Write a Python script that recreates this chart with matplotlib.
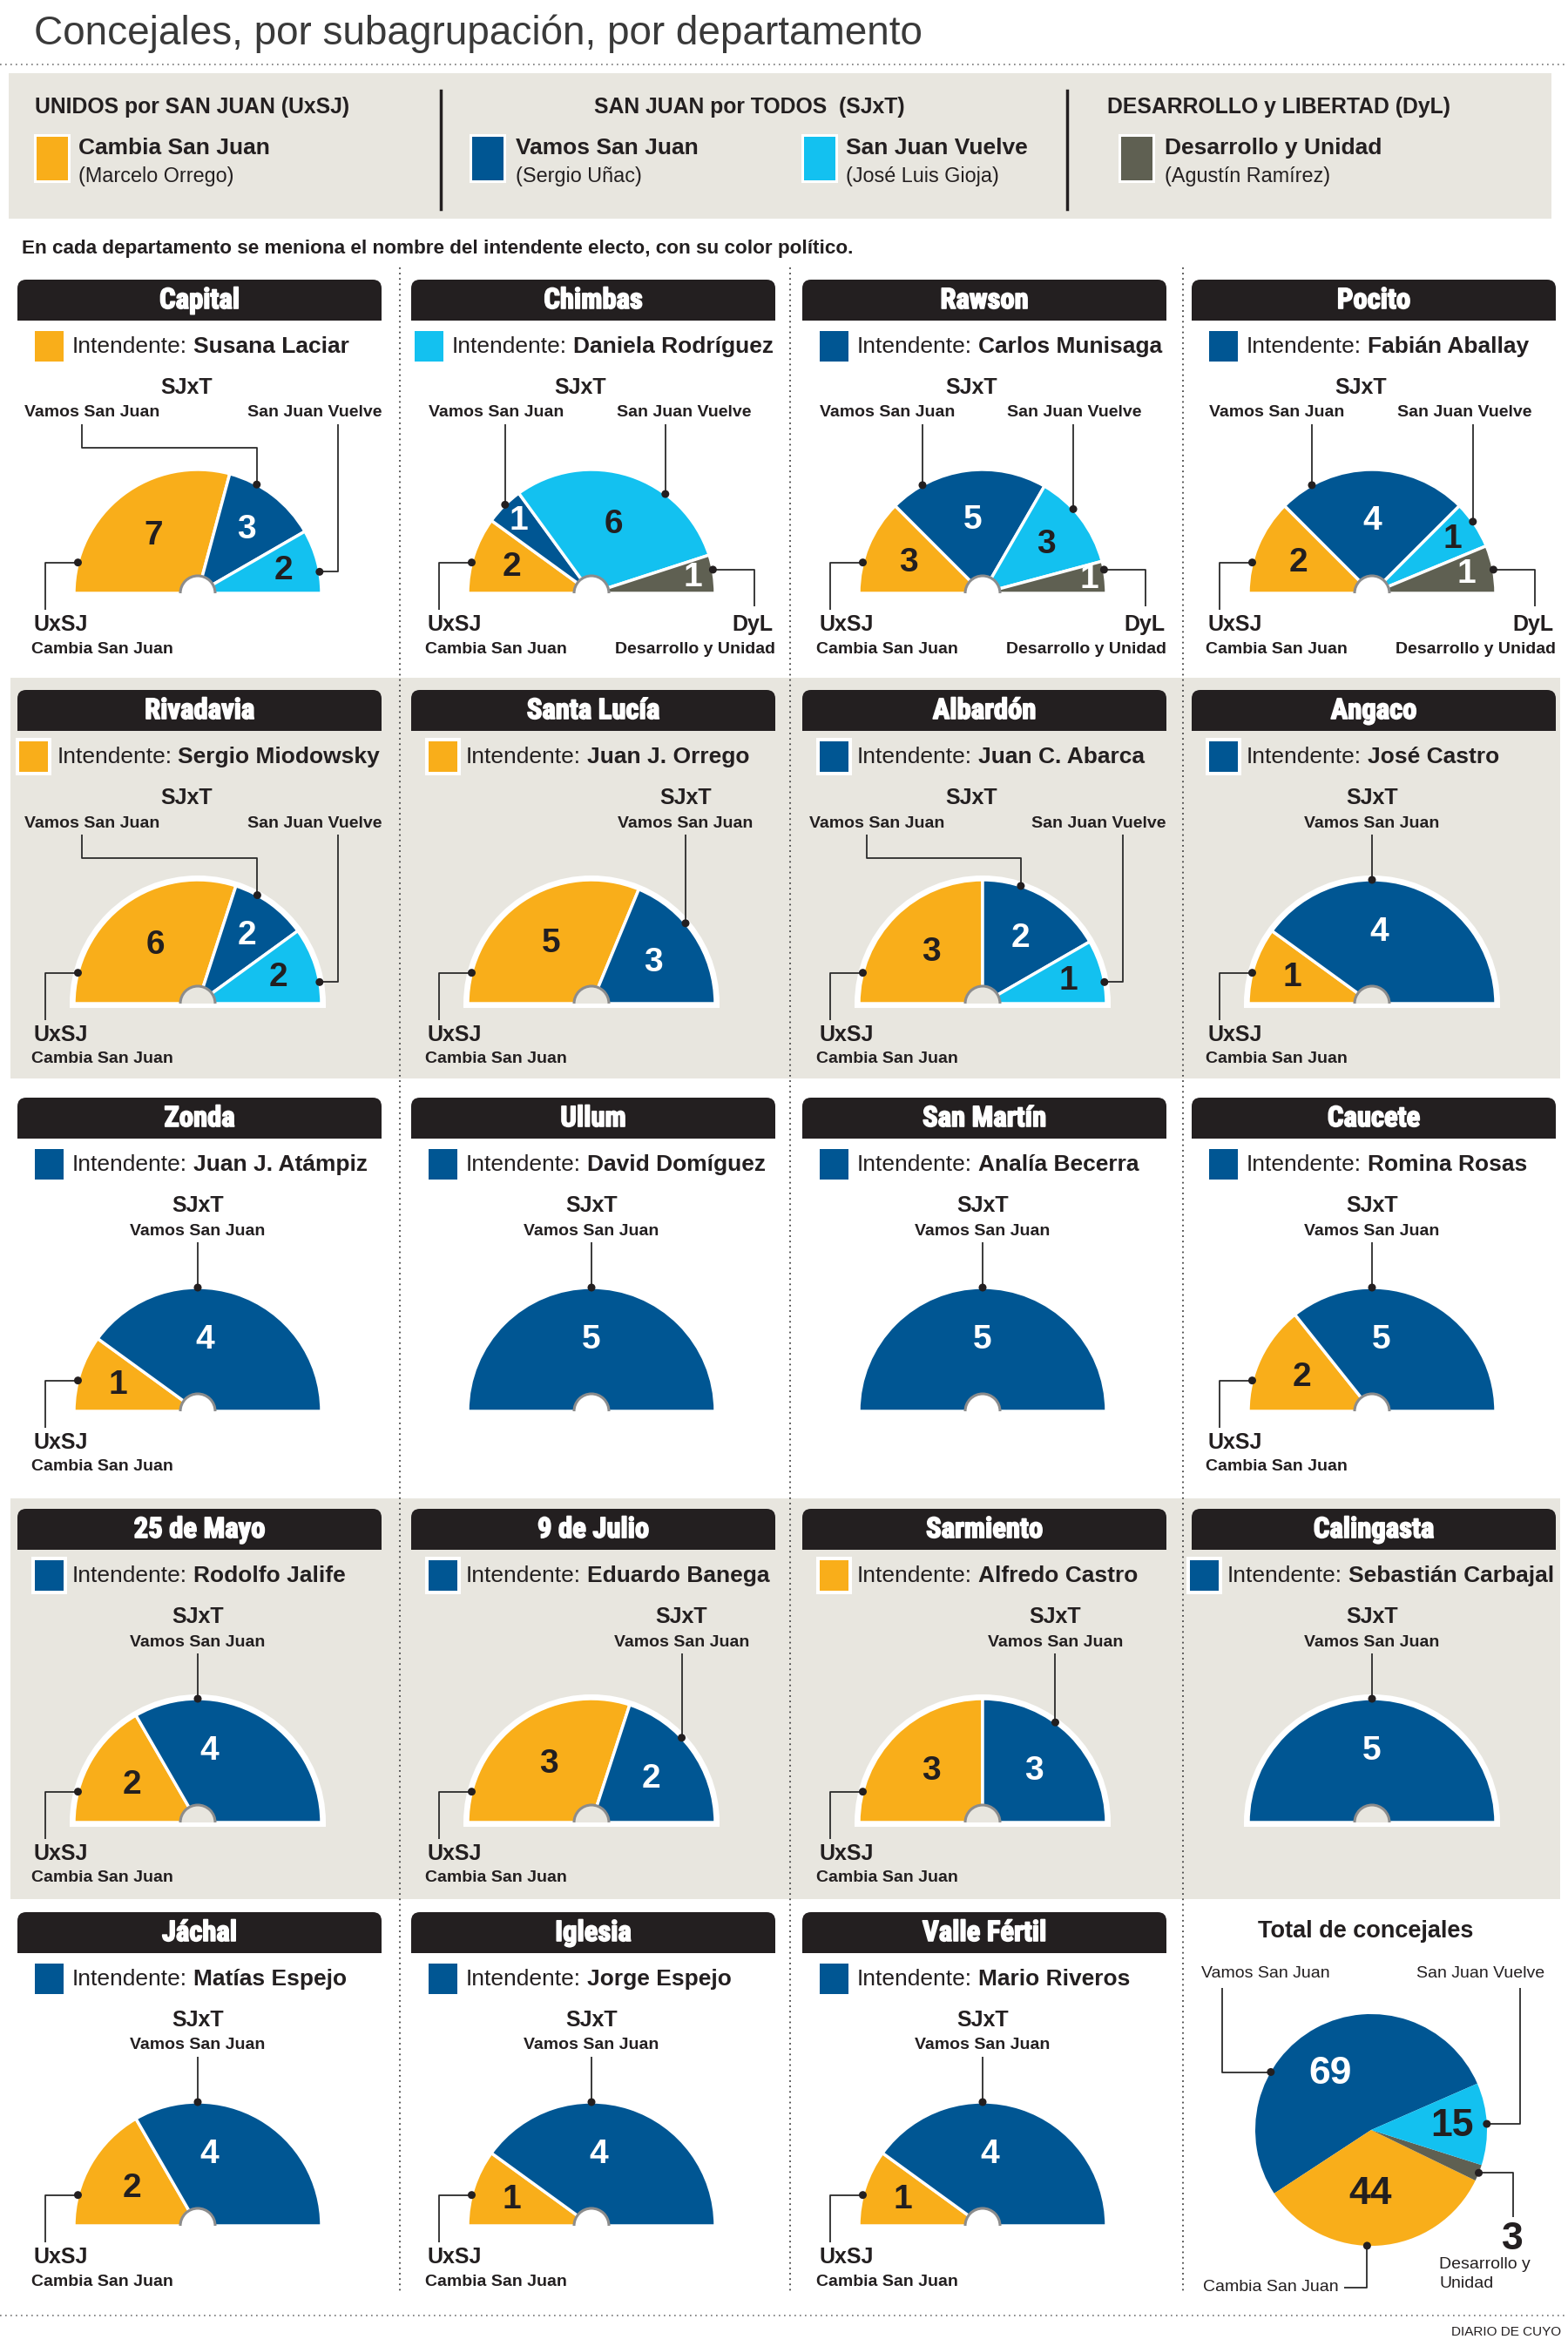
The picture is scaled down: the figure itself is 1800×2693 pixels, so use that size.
import numpy as np
import matplotlib
matplotlib.use('Agg')
import matplotlib.pyplot as plt
import matplotlib.patheffects as pe
from matplotlib.patches import Wedge, Rectangle, FancyBboxPatch, Circle, Arc
from matplotlib import font_manager as fm

# ---------------- data ----------------
departments = ['Capital', 'Chimbas', 'Rawson', 'Pocito',
               'Rivadavia', 'Santa Lucía', 'Albardón', 'Angaco',
               'Zonda', 'Ullum', 'San Martín', 'Caucete',
               '25 de Mayo', '9 de Julio', 'Sarmiento', 'Calingasta',
               'Jáchal', 'Iglesia', 'Valle Fértil']
intendentes = ['Susana Laciar', 'Daniela Rodríguez', 'Carlos Munisaga', 'Fabián Aballay',
               'Sergio Miodowsky', 'Juan J. Orrego', 'Juan C. Abarca', 'José Castro',
               'Juan J. Atámpiz', 'David Domíguez', 'Analía Becerra', 'Romina Rosas',
               'Rodolfo Jalife', 'Eduardo Banega', 'Alfredo Castro', 'Sebastián Carbajal',
               'Matías Espejo', 'Jorge Espejo', 'Mario Riveros']
intendente_group = ['cambia', 'vuelve', 'vamos', 'vamos',
                    'cambia', 'cambia', 'vamos', 'vamos',
                    'vamos', 'vamos', 'vamos', 'vamos',
                    'vamos', 'vamos', 'cambia', 'vamos',
                    'vamos', 'vamos', 'vamos']
cambia_san_juan     = [7, 2, 3, 2, 6, 5, 3, 1, 1, 0, 0, 2, 2, 3, 3, 0, 2, 1, 1]
vamos_san_juan      = [3, 1, 5, 4, 2, 3, 2, 4, 4, 5, 5, 5, 4, 2, 3, 5, 4, 4, 4]
san_juan_vuelve     = [2, 6, 3, 1, 2, 0, 1, 0, 0, 0, 0, 0, 0, 0, 0, 0, 0, 0, 0]
desarrollo_y_unidad = [0, 1, 1, 1, 0, 0, 0, 0, 0, 0, 0, 0, 0, 0, 0, 0, 0, 0, 0]

group_keys = ['cambia', 'vamos', 'vuelve', 'desarrollo']
group_names = ['Cambia San Juan', 'Vamos San Juan', 'San Juan Vuelve', 'Desarrollo y Unidad']
group_leaders = ['(Marcelo Orrego)', '(Sergio Uñac)', '(José Luis Gioja)', '(Agustín Ramírez)']
alliances = ['UNIDOS por SAN JUAN (UxSJ)', 'SAN JUAN por TODOS  (SJxT)', 'DESARROLLO y LIBERTAD (DyL)']

# ---------------- style ----------------
COL = {'cambia': '#f9ae1a', 'vamos': '#005693', 'vuelve': '#13c1f0', 'desarrollo': '#5f6052'}
NUMCOL = {'cambia': '#231f20', 'vamos': 'white', 'vuelve': '#231f20', 'desarrollo': 'white'}
INK = '#231f20'
BAND = '#e8e6df'
HDR = '#231f20'

names = {f.name for f in fm.fontManager.ttflist}
SANS = 'Liberation Sans' if 'Liberation Sans' in names else 'DejaVu Sans'
COND = next((n for n in ['Roboto Condensed', 'Liberation Sans Narrow', 'Open Sans Condensed']
             if n in names), SANS)
plt.rcParams['font.family'] = [SANS, 'DejaVu Sans']

W, H = 1800, 2693
fig = plt.figure(figsize=(W / 100, H / 100), dpi=100)
ax = fig.add_axes([0, 0, 1, 1])
ax.set_xlim(0, W)
ax.set_ylim(0, H)
ax.axis('off')
renderer = fig.canvas.get_renderer()


def txt(x, y, s, size, weight='normal', color=INK, ha='left', va='center', fam=None, z=8):
    return ax.text(x, H - y, s, fontsize=size, fontweight=weight, color=color, ha=ha, va=va,
                   family=fam or [SANS, 'DejaVu Sans'], zorder=z)


def tw(t):
    return t.get_window_extent(renderer).width


def leader(pts, dot=True):
    xs = [p[0] for p in pts]
    ys = [H - p[1] for p in pts]
    ax.plot(xs, ys, color='#2b2b2b', lw=1.3, solid_capstyle='butt', zorder=6)
    if dot:
        ax.add_patch(Circle((pts[0][0], H - pts[0][1]), 4.5, fc=INK, ec='none', zorder=7))


def rect(x, y, w, h, fc, z=2):
    ax.add_patch(Rectangle((x, H - y - h), w, h, fc=fc, ec='none', zorder=z))


def dotted_h(y, x0, x1, color='#666666'):
    ax.plot([x0, x1], [H - y, H - y], color=color, lw=1.2, ls=(0, (1, 2.6)), zorder=2)


def dotted_v(x, y0, y1, color='#444444'):
    ax.plot([x, x], [H - y0, H - y1], color=color, lw=1.3, ls=(0, (1, 2.4)), zorder=2)


# ---------------- title & legend ----------------
txt(39, 51, 'Concejales, por subagrupación, por departamento', 33, color='#3a3a3a', va='baseline')
dotted_h(74, 0, W, '#777777')

rect(10, 84, 1771, 167, BAND, z=1)
txt(40, 123, alliances[0], 17.8, 'bold')
txt(860, 123, alliances[1], 17.8, 'bold', ha='center')
txt(1271, 123, alliances[2], 17.8, 'bold')
for x in (506, 1225):
    ax.plot([x, x], [H - 104, H - 240], color=INK, lw=2.5, zorder=3)
sq_x = [42, 542, 923, 1287]
nm_x = [90, 592, 971, 1337]
for k, sx, nx, nm, ld in zip(group_keys, sq_x, nm_x, group_names, group_leaders):
    rect(sx - 3, 154, 42, 56, 'white', z=3)
    rect(sx, 157, 36, 50, COL[k], z=4)
    txt(nx, 170, nm, 19, 'bold')
    txt(nx, 203, ld, 16.8)

txt(25, 285, 'En cada departamento se meniona el nombre del intendente electo, con su color político.',
    16.2, 'bold')

# ---------------- grid of departments ----------------
col_lefts = [20, 472, 921, 1368]
row_tops = [321, 792, 1260, 1732, 2195]
PW = 418
R = 142
HOLE = 20

rect(12, 778, 1779, 460, BAND, z=1)
rect(12, 1720, 1779, 460, BAND, z=1)
for x in (459, 907, 1358):
    dotted_v(x, 307, 2633)


def polar(cx, base, ang, r=R):
    a = np.radians(ang)
    return cx + r * np.cos(a), base - r * np.sin(a)


for i, dep in enumerate(departments):
    row, col = divmod(i, 4)
    L = col_lefts[col]
    T = row_tops[row]
    bg = BAND if row in (1, 3) else 'white'

    # header bar
    ax.add_patch(FancyBboxPatch((L, H - (T + 47)), PW, 47, boxstyle='round,pad=0,rounding_size=10',
                                fc=HDR, ec='none', zorder=3))
    rect(L, T + 27, PW, 20, HDR, z=3)
    ht = txt(L + PW / 2, T + 24, dep, 23.5, 'bold', 'white', ha='center',
             fam=[COND, SANS, 'DejaVu Sans'])
    ht.set_path_effects([pe.withStroke(linewidth=1.2, foreground='white')])

    # intendente
    t1 = txt(0, T + 77, 'Intendente:', 19)
    t2 = txt(0, T + 77, intendentes[i], 19, 'bold')
    w1, w2 = tw(t1), tw(t2)
    sp = 7
    block = 33 + 10 + w1 + sp + w2
    x0 = min(L + 20, L + PW - 2 - block)
    rect(x0 - 4, T + 55, 41, 43, 'white', z=3)
    rect(x0, T + 59, 33, 35, COL[intendente_group[i]], z=4)
    t1.set_x(x0 + 43)
    t2.set_x(x0 + 43 + w1 + sp)

    # semicircle
    vals = [cambia_san_juan[i], vamos_san_juan[i], san_juan_vuelve[i], desarrollo_y_unidad[i]]
    total = sum(vals)
    nseg = sum(1 for v in vals if v)
    cx = L + 207
    base = T + 360
    ax.add_patch(Wedge((cx, H - base), R + 5, 0, 180, fc='white', ec='none', zorder=3))
    rect(cx - R - 5, base, 2 * R + 10, 5, 'white', z=3)
    segs = {}
    cum = 0
    for k, v in zip(group_keys, vals):
        if v == 0:
            continue
        a2 = 180 - 180 * cum / total
        cum += v
        a1 = 180 - 180 * cum / total
        segs[k] = (a1, a2)
        ax.add_patch(Wedge((cx, H - base), R, a1, a2, fc=COL[k], ec='white', lw=2.5, zorder=4))
        span = a2 - a1
        mid = (a1 + a2) / 2
        if k == 'vamos' and nseg == 2 and a1 < 80 and a2 > 100:
            mid = 0.3 * mid + 0.7 * 90
        rf = 0.58 + 0.25 * np.exp(-(span - 18) / 20)
        nx, ny = polar(cx, base, mid, rf * R)
        txt(nx, ny, str(v), 28, 'bold', NUMCOL[k], ha='center')

    # hole
    ax.add_patch(Wedge((cx, H - base), HOLE, 0, 180, fc=bg, ec='none', zorder=5))
    ax.add_patch(Arc((cx, H - base), 2 * HOLE, 2 * HOLE, theta1=0, theta2=180,
                     color='#8c8c8c', lw=2.2, zorder=6))

    # bottom labels
    if vals[0]:
        px, py = polar(cx, base, 165.6)
        leader([(px, py), (L + 32, py), (L + 32, base + 19)])
        txt(L + 19, base + 36, 'UxSJ', 18, 'bold')
        txt(L + 16, base + 64, group_names[0], 14, 'bold')
    if vals[3]:
        px, py = polar(cx, base, 11)
        leader([(px, py), (L + 394, py), (L + 394, base + 15)])
        txt(L + 416, base + 36, 'DyL', 18, 'bold', ha='right')
        txt(L + PW, base + 64, group_names[3], 14, 'bold', ha='right')

    # top labels
    if vals[2]:
        txt(L + 194, T + 124, 'SJxT', 18, 'bold', ha='center')
        has_dyl = vals[3] > 0
        tv = txt(L + (20 if has_dyl else 8), T + 153, group_names[1], 14, 'bold')
        ts = txt(L + (390 if has_dyl else PW), T + 153, group_names[2], 14, 'bold', ha='right')
        for k, t in (('vamos', tv), ('vuelve', ts)):
            bb = t.get_window_extent(renderer)
            a, b = bb.x0, bb.x1
            a1, a2 = segs[k]
            if a1 == 0:
                px, py = polar(cx, base, 10)
                leader([(px, py), (L + 368, py), (L + 368, T + 166)])
                continue
            lo = cx + R * np.cos(np.radians(a2))
            hi = cx + R * np.cos(np.radians(a1))
            ilo, ihi = max(lo, a + 6), min(hi, b - 6)
            if ilo <= ihi:
                px = (ilo + ihi) / 2
                ang = np.degrees(np.arccos((px - cx) / R))
                _, py = polar(cx, base, ang)
                leader([(px, py), (px, T + 166)])
            else:
                mid = (a1 + a2) / 2
                left_label = b < lo
                near = a2 if left_label else a1
                ang = mid + 0.4 * (near - mid)
                px, py = polar(cx, base, ang)
                anchor = a + 66 if left_label else b - 66
                leader([(px, py), (px, T + 193), (anchor, T + 193), (anchor, T + 166)])
    else:
        a1, a2 = segs['vamos']
        if a1 < 80 and a2 > 100:
            ang = 90
        else:
            mid = (a1 + a2) / 2
            ang = mid + 0.2 * (a2 - mid)
        px, py = polar(cx, base, ang)
        tv = txt(px, T + 153, group_names[1], 14, 'bold', ha='center')
        w = tw(tv)
        lx = min(px, L + PW - w / 2)
        tv.set_x(lx)
        txt(lx, T + 124, 'SJxT', 18, 'bold', ha='center')
        leader([(px, py), (px, T + 166)])

# ---------------- total pie ----------------
totals = {'cambia': sum(cambia_san_juan), 'vamos': sum(vamos_san_juan),
          'vuelve': sum(san_juan_vuelve), 'desarrollo': sum(desarrollo_y_unidad)}
grand = sum(totals.values())
PCX, PCY, PR = 1574, 2445, 133
start_angle = 23.6
order = ['vamos', 'cambia', 'desarrollo', 'vuelve']
mids = {}
cur = start_angle
for k in order:
    span = 360 * totals[k] / grand
    ax.add_patch(Wedge((PCX, H - PCY), PR, cur, cur + span, fc=COL[k], ec='none', zorder=4))
    mids[k] = cur + span / 2
    cur += span

txt(1568, 2217, 'Total de concejales', 19.5, 'bold', ha='center')
for k, rf, da in (('vamos', 0.6, 8), ('cambia', 0.55, -4), ('vuelve', 0.7, 0)):
    nx, ny = polar(PCX, PCY, mids[k] + da, rf * PR)
    txt(nx, ny, str(totals[k]), 32, 'bold', NUMCOL[k], ha='center')

px, py = polar(PCX, PCY, 150, PR)
leader([(px, py), (1403, py), (1403, 2282)])
txt(1379, 2266, group_names[1], 14)
px, py = polar(PCX, PCY, mids['vuelve'], PR)
leader([(px, py), (1745, py), (1745, 2282)])
txt(1773, 2266, group_names[2], 14, ha='right')
px, py = polar(PCX, PCY, mids['desarrollo'], PR)
leader([(px, py), (1737, py), (1737, 2545)])
txt(1736, 2570, str(totals['desarrollo']), 32, 'bold', ha='center')
txt(1652, 2600, 'Desarrollo y', 14)
txt(1652, 2622, 'Unidad', 14)
px, py = polar(PCX, PCY, 268, PR)
leader([(px, py), (px, 2626), (1543, 2626)])
txt(1537, 2626, group_names[0], 14, ha='right')

# ---------------- footer ----------------
dotted_h(2658, 0, W, '#777777')
txt(1792, 2677, 'DIARIO DE CUYO', 11, ha='right')

fig.savefig('out.png', dpi=100, facecolor='white')
